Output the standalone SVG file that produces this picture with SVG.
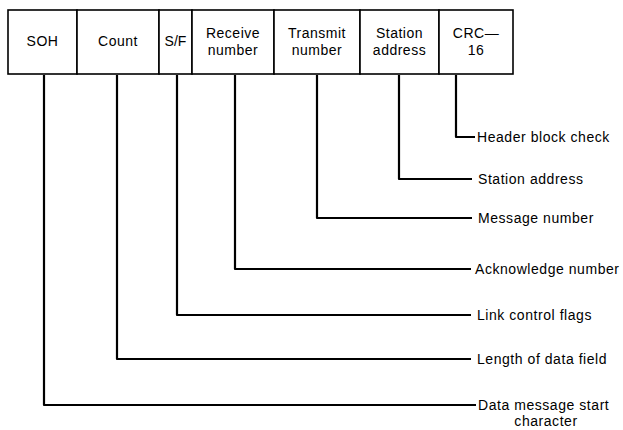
<svg xmlns="http://www.w3.org/2000/svg" width="623" height="430" viewBox="0 0 623 430">
<style>
.box{fill:#fff;stroke:#000;stroke-width:1.6}
.t{font-family:"Liberation Sans",Arial,sans-serif;font-size:14px;fill:#000;text-anchor:middle;letter-spacing:0.5px}
.l{font-family:"Liberation Sans",Arial,sans-serif;font-size:14px;fill:#000;letter-spacing:0.55px}
.c{fill:none;stroke:#000;stroke-width:2.2;stroke-linejoin:round}
</style>
<rect width="623" height="430" fill="#fff"/>
<g id="SOH"><rect class="box" x="8" y="10" width="69" height="64"/><text class="t" x="42.5" y="46">SOH</text></g>
<g id="Count"><rect class="box" x="77" y="10" width="82" height="64"/><text class="t" x="118" y="46">Count</text></g>
<g id="SF"><rect class="box" x="159" y="10" width="33" height="64"/><text class="t" x="175.5" y="46" style="letter-spacing:0">S/F</text></g>
<g id="Receive"><rect class="box" x="192" y="10" width="82" height="64"/><text class="t" x="233" y="38">Receive</text><text class="t" x="233" y="55">number</text></g>
<g id="Transmit"><rect class="box" x="274" y="10" width="86" height="64"/><text class="t" x="317" y="38">Transmit</text><text class="t" x="317" y="55">number</text></g>
<g id="Station"><rect class="box" x="360" y="10" width="79" height="64"/><text class="t" x="399.5" y="38">Station</text><text class="t" x="399.5" y="55">address</text></g>
<g id="CRC"><rect class="box" x="439" y="10" width="74" height="64"/><text class="t" x="476" y="38">CRC—</text><text class="t" x="476" y="55">16</text></g>
<g id="connectors">
<path class="c" d="M456 75 V137 H475"/>
<path class="c" d="M399 75 V179 H472"/>
<path class="c" d="M317 75 V218 H472"/>
<path class="c" d="M235 75 V269 H471"/>
<path class="c" d="M177 75 V315 H471"/>
<path class="c" d="M117 75 V359 H471"/>
<path class="c" d="M44 75 V405 H476"/>
</g>
<g id="labels">
<text class="l" x="477" y="142">Header block check</text>
<text class="l" x="478" y="184">Station address</text>
<text class="l" x="478" y="223">Message number</text>
<text class="l" x="475" y="274">Acknowledge number</text>
<text class="l" x="477" y="320">Link control flags</text>
<text class="l" x="477" y="364">Length of data field</text>
<text class="l" x="478" y="410">Data message start</text>
<text class="l" x="546" y="426" text-anchor="middle">character</text>
</g>
</svg>
